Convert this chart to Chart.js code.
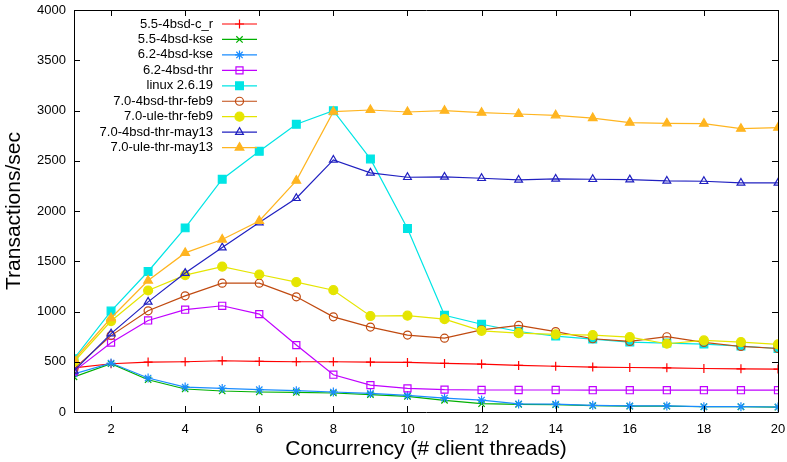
<!DOCTYPE html>
<html>
<head>
<meta charset="utf-8">
<script src="https://cdn.jsdelivr.net/npm/chart.js@4/dist/chart.umd.min.js"></script>
<style>
html,body{margin:0;padding:0;background:#fff;}
#wrap{width:787px;height:462px;position:relative;}
</style>
</head>
<body>
<div id="wrap"><canvas id="c" width="787" height="462"></canvas></div>
<script>
const threads = [1,2,3,4,5,6,7,8,9,10,11,12,13,14,15,16,17,18,19,20];
const xTicks = [2,4,6,8,10,12,14,16,18,20];
const yTicks = [0,500,1000,1500,2000,2500,3000,3500,4000];

const seriesNames = ["5.5-4bsd-c_r","5.5-4bsd-kse","6.2-4bsd-kse","6.2-4bsd-thr","linux 2.6.19","7.0-4bsd-thr-feb9","7.0-ule-thr-feb9","7.0-4bsd-thr-may13","7.0-ule-thr-may13"];

const bsd55_c_r   = [440,480,497,500,510,503,500,500,497,493,483,477,463,455,447,443,440,433,430,427];
const bsd55_kse   = [350,480,321,229,209,199,195,189,172,155,116,83,76,73,63,58,58,52,52,48];
const bsd62_kse   = [380,487,338,248,235,222,212,199,185,165,139,119,80,78,66,60,60,53,53,50];
const bsd62_thr   = [404,690,911,1018,1057,974,666,371,268,235,222,219,219,219,217,217,217,217,217,217];
const linux2619   = [530,1004,1398,1832,2316,2594,2863,2998,2518,1825,962,873,801,755,726,696,686,676,656,632];
const bsd70_feb9  = [430,760,1007,1156,1282,1282,1146,947,845,765,735,818,861,800,729,702,749,692,652,632];
const ule70_feb9  = [500,905,1209,1362,1447,1368,1292,1212,955,958,924,808,785,773,765,745,679,712,696,672];
const bsd70_may13 = [410,780,1096,1382,1636,1885,2127,2508,2379,2336,2339,2326,2309,2319,2316,2312,2299,2296,2279,2279];
const ule70_may13 = [520,935,1308,1583,1716,1901,2302,2988,3005,2985,2998,2978,2965,2952,2925,2879,2872,2869,2819,2829];

const allSeries = [bsd55_c_r,bsd55_kse,bsd62_kse,bsd62_thr,linux2619,bsd70_feb9,ule70_feb9,bsd70_may13,ule70_may13];
const colors = ["#ff0000","#00b000","#1a8cff","#c000ff","#00e5e5","#c04a10","#e5e500","#2020c0","#ffb520"];
const styles = [
  {ps:"cross", r:4.5, fill:false},
  {ps:"crossRot", r:4.5, fill:false},
  {ps:"star", r:4.5, fill:false},
  {ps:"rect", r:5, fill:false},
  {ps:"rect", r:5.5, fill:true},
  {ps:"circle", r:4, fill:false},
  {ps:"circle", r:4.5, fill:true},
  {ps:"triangle", r:4.5, fill:false},
  {ps:"triangle", r:5, fill:true}
];

const N = allSeries.length;
const datasets = allSeries.map((vals, i) => ({
  label: seriesNames[i],
  data: vals.map((v, k) => ({x: threads[k], y: v})),
  borderColor: colors[i],
  backgroundColor: styles[i].fill ? colors[i] : "rgba(255,255,255,0)",
  pointBorderColor: colors[i],
  pointBackgroundColor: styles[i].fill ? colors[i] : "rgba(255,255,255,0)",
  pointStyle: styles[i].ps,
  pointRadius: styles[i].r,
  pointBorderWidth: 1.2,
  borderWidth: 1.2,
  tension: 0,
  fill: false,
  order: N - i
}));

const FONT = "'Liberation Sans', Arial, Helvetica, sans-serif";

const framePlugin = {
  id: "frame",
  afterDatasetsDraw(chart) {
    const ctx = chart.ctx;
    const a = chart.chartArea;
    const xs = chart.scales.x, ys = chart.scales.y;
    ctx.save();
    ctx.strokeStyle = "#000";
    ctx.lineWidth = 1;
    ctx.beginPath();
    ctx.rect(Math.round(a.left)+0.5, Math.round(a.top)+0.5, Math.round(a.right-a.left), Math.round(a.bottom-a.top));
    ctx.stroke();
    const tl = 6;
    ctx.beginPath();
    xTicks.forEach(v => {
      const px = Math.round(xs.getPixelForValue(v)) + 0.5;
      ctx.moveTo(px, a.bottom); ctx.lineTo(px, a.bottom - tl);
      ctx.moveTo(px, a.top); ctx.lineTo(px, a.top + tl);
    });
    yTicks.forEach(v => {
      const py = Math.round(ys.getPixelForValue(v)) + 0.5;
      ctx.moveTo(a.left, py); ctx.lineTo(a.left + tl, py);
      ctx.moveTo(a.right, py); ctx.lineTo(a.right - tl, py);
    });
    ctx.stroke();

    // legend
    const textRight = 213, lineL = 222, lineR = 257;
    ctx.font = "13px " + FONT;
    ctx.textAlign = "right";
    ctx.textBaseline = "middle";
    chart.data.datasets.forEach((ds, i) => {
      const y = 24 + i * 15.45;
      ctx.fillStyle = "#000";
      ctx.fillText(ds.label, textRight, y);
      ctx.strokeStyle = ds.borderColor;
      ctx.lineWidth = 1.2;
      ctx.beginPath();
      ctx.moveTo(lineL, y); ctx.lineTo(lineR, y);
      ctx.stroke();
      ctx.fillStyle = ds.pointBackgroundColor;
      ctx.strokeStyle = ds.pointBorderColor;
      ctx.lineWidth = 1.2;
      Chart.helpers.drawPoint(ctx, {pointStyle: ds.pointStyle, radius: ds.pointRadius, rotation: 0, borderWidth: 1.2}, (lineL + lineR) / 2, y);
    });
    ctx.restore();
  }
};

new Chart(document.getElementById("c"), {
  type: "line",
  data: { datasets },
  options: {
    responsive: false,
    animation: false,
    devicePixelRatio: 1,
    layout: { padding: { top: 10, right: 9, left: 0, bottom: 0 } },
    plugins: { legend: { display: false }, tooltip: { enabled: false } },
    scales: {
      x: {
        type: "linear",
        min: 1, max: 20,
        afterBuildTicks: axis => { axis.ticks = xTicks.map(v => ({value: v})); },
        afterFit: s => { s.height = 50; s.paddingLeft = 0; s.paddingRight = 0; },
        grid: { display: false, drawTicks: false },
        border: { display: false },
        ticks: { color: "#000", font: { family: FONT, size: 13 }, padding: 10, maxRotation: 0, autoSkip: false, callback: v => String(v) },
        title: { display: true, text: "Concurrency (# client threads)", color: "#000", font: { family: FONT, size: 21 }, padding: { top: 0, bottom: 0 } }
      },
      y: {
        min: 0, max: 4000,
        afterBuildTicks: axis => { axis.ticks = yTicks.map(v => ({value: v})); },
        afterFit: s => { s.width = 74; s.paddingTop = 0; s.paddingBottom = 0; },
        grid: { display: false, drawTicks: false },
        border: { display: false },
        ticks: { color: "#000", font: { family: FONT, size: 13 }, padding: 8, callback: v => String(v) },
        title: { display: true, text: "Transactions/sec", color: "#000", font: { family: FONT, size: 21 }, padding: { top: 2, bottom: 0 } }
      }
    }
  },
  plugins: [framePlugin]
});
</script>
</body>
</html>
